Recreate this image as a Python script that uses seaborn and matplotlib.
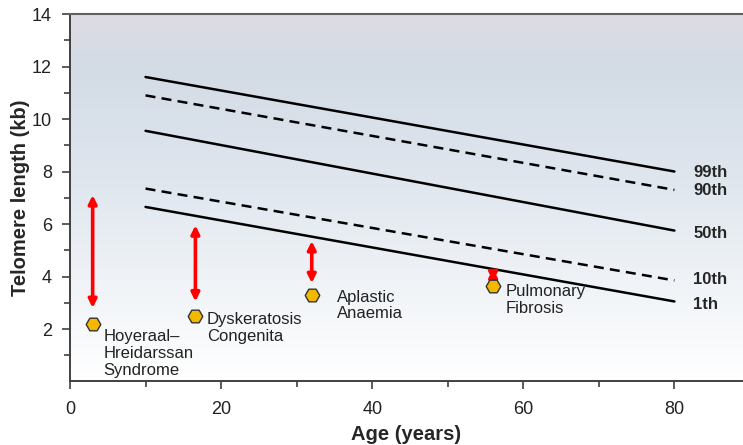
import numpy as np
import pandas as pd
import matplotlib
matplotlib.use("Agg")
import matplotlib.pyplot as plt
from matplotlib.colors import LinearSegmentedColormap
import seaborn as sns

# Percentile curves (age 10 -> 80)
line_ages = [10, 80]
p99 = [11.6, 8.0]
p90 = [10.9, 7.3]
p50 = [9.55, 5.75]
p10 = [7.35, 3.85]
p1 = [6.65, 3.05]
pct_names = ["99th", "90th", "50th", "10th", "1th"]
pct_label_y = [7.98, 7.26, 5.62, 3.87, 2.95]

# Disease points
disease_names = ["Hoyeraal–\nHreidarssan\nSyndrome", "Dyskeratosis\nCongenita",
                 "Aplastic\nAnaemia", "Pulmonary\nFibrosis"]
disease_age = [3.0, 16.6, 32.0, 56.0]
disease_tl = [2.2, 2.5, 3.3, 3.62]
arrow_top = [7.1, 5.95, 5.35, 4.3]
arrow_bottom = [2.8, 3.05, 3.75, 3.82]
label_x = [4.4, 18.1, 35.4, 57.6]
label_y = [2.0, 2.64, 3.5, 3.72]

sns.set_style("ticks")
plt.rcParams["font.family"] = ["Liberation Sans", "DejaVu Sans"]

fig = plt.figure(figsize=(7.43, 4.45), dpi=100)
ax = fig.add_axes([0.0942, 0.1427, 0.905, 0.8258])
ax.set_xlim(0, 89)
ax.set_ylim(0, 14)

# background gradient
cmap = LinearSegmentedColormap.from_list(
    "bg", [(0, "#ffffff"), (0.55, "#dfe6ee"), (0.85, "#d3dbe5"), (1, "#dddce3")])
grad = np.linspace(0, 1, 256).reshape(-1, 1)
ax.imshow(grad, cmap=cmap, aspect="auto", extent=[0, 89, 0, 14],
          origin="lower", zorder=0)

df = pd.DataFrame({
    "age": line_ages * 5,
    "tl": p99 + p90 + p50 + p10 + p1,
    "pct": sum([[n] * 2 for n in pct_names], []),
})
dashes = {"99th": "", "90th": (4, 2.5), "50th": "", "10th": (4, 2.5), "1th": ""}
sns.lineplot(data=df, x="age", y="tl", hue="pct", style="pct",
             palette=["black"] * 5, dashes=dashes, lw=1.8,
             legend=False, ax=ax, zorder=3)

for name, y in zip(pct_names, pct_label_y):
    ax.text(82.5, y, name, fontsize=12, fontweight="bold", va="center", ha="left")

for x, top, bot in zip(disease_age, arrow_top, arrow_bottom):
    ax.annotate("", xy=(x, top), xytext=(x, bot),
                arrowprops=dict(arrowstyle="<|-|>", color="#ff0000", lw=2.6,
                                mutation_scale=12, shrinkA=0, shrinkB=0),
                zorder=4)

sns.scatterplot(x=disease_age, y=disease_tl, marker="H", s=110,
                color="#f5b800", edgecolor="#333333", linewidth=1.0,
                ax=ax, zorder=5)

for name, x, y in zip(disease_names, label_x, label_y):
    ax.text(x, y, name, fontsize=12, va="top", ha="left",
            linespacing=1.15, color="#222222")

ax.set_xticks([0, 20, 40, 60, 80])
ax.set_xticks([10, 30, 50, 70], minor=True)
ax.set_yticks([2, 4, 6, 8, 10, 12, 14])
ax.set_yticks([1, 3, 5, 7, 9, 11, 13], minor=True)
ax.tick_params(axis="both", which="major", labelsize=13, length=6, width=1.2,
               color="#404040", labelcolor="#222222")
ax.tick_params(axis="x", which="major", pad=8)
ax.tick_params(axis="y", which="major", pad=7)
ax.tick_params(axis="both", which="minor", length=4, width=1.2, color="#404040")

ax.set_xlabel("Age (years)", fontsize=14.5, fontweight="bold", labelpad=5)
ax.set_ylabel("Telomere length (kb)", fontsize=14.5, fontweight="bold", labelpad=1)

for s in ["left", "bottom"]:
    ax.spines[s].set_color("#404040")
    ax.spines[s].set_linewidth(1.4)
ax.spines["right"].set_visible(False)
ax.spines["top"].set_visible(True)
ax.spines["top"].set_color("#606060")
ax.spines["top"].set_linewidth(1.5)

fig.savefig("out.png", dpi=100)
